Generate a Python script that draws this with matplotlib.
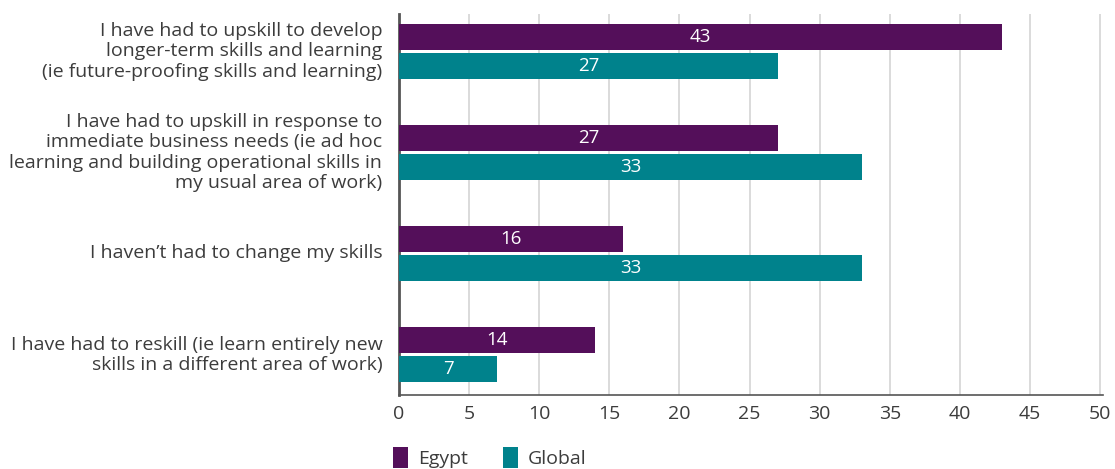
import matplotlib.pyplot as plt
import matplotlib.transforms as mtransforms
import numpy as np

plt.rcParams['font.family'] = ['Open Sans', 'DejaVu Sans']

categories = [
    "I have had to upskill to develop\nlonger-term skills and learning\n(ie future-proofing skills and learning)",
    "I have had to upskill in response to\nimmediate business needs (ie ad hoc\nlearning and building operational skills in\nmy usual area of work)",
    "I haven\u2019t had to change my skills",
    "I have had to reskill (ie learn entirely new\nskills in a different area of work)",
]
egypt = [43, 27, 16, 14]
global_vals = [27, 33, 33, 7]
series_names = ["Egypt", "Global"]
x_ticks = list(range(0, 51, 5))

purple = "#540f5a"
teal = "#00828c"
text_col = "#3c3c3c"

fig = plt.figure(figsize=(11.15, 4.69), dpi=100)
ax = fig.add_axes([399 / 1115, 74 / 469, 704 / 1115, 381 / 469])

y = np.arange(len(categories))
h = 0.26
off = 0.145
b1 = ax.barh(y - off, egypt, height=h, color=purple, label=series_names[0], zorder=3)
b2 = ax.barh(y + off, global_vals, height=h, color=teal, label=series_names[1], zorder=3)

# value labels in the middle of each bar
for bars, vals in [(b1, egypt), (b2, global_vals)]:
    for bar, v in zip(bars, vals):
        ax.text(v / 2, bar.get_y() + bar.get_height() / 2, str(v),
                ha="center", va="center", color="white", fontsize=13.5, zorder=4)

ax.set_xlim(0, 50.2)
ax.set_ylim(3.4, -0.37)
ax.set_xticks(x_ticks)
ax.set_xticklabels([str(t) for t in x_ticks], color=text_col, fontsize=14)
ax.set_yticks(y)
ax.set_yticklabels(categories, color=text_col, fontsize=14, linespacing=1.15)
ax.tick_params(axis="x", length=0, pad=7)
ax.tick_params(axis="y", length=0, pad=12)

# nudge category labels up a little
shift = mtransforms.ScaledTranslation(0, 3 / 100, fig.dpi_scale_trans)
for lbl in ax.get_yticklabels():
    lbl.set_transform(lbl.get_transform() + shift)

ax.grid(axis="x", color="#d4d4d4", linewidth=1.2, zorder=0)
for s in ["top", "right"]:
    ax.spines[s].set_visible(False)
ax.spines["left"].set_color("#555555")
ax.spines["left"].set_linewidth(2)
ax.spines["bottom"].set_color("#555555")
ax.spines["bottom"].set_linewidth(1.2)

fig.legend(handles=[b1, b2], loc="lower left", bbox_to_anchor=(375 / 1115, -0.035),
           ncol=2, frameon=False, fontsize=14, handlelength=0.8, handleheight=1.25,
           columnspacing=1.8, handletextpad=0.5, labelcolor=text_col)

fig.savefig("out.png", dpi=100)
